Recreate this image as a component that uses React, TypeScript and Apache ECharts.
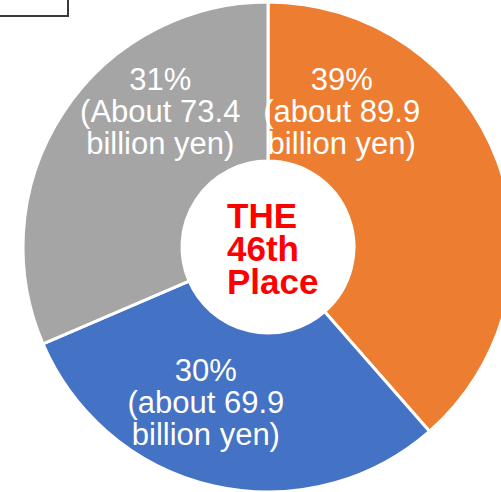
import React, { useEffect, useRef } from "react";
import * as echarts from "echarts";

const categories = ["39%\n(about 89.9\nbillion yen)", "30%\n(about 69.9\nbillion yen)", "31%\n(About 73.4\nbillion yen)"];
const values = [89.9, 69.9, 73.4];
const colors = ["#ED7D31", "#4472C4", "#A5A5A5"];
const labelOffsets: [number, number][] = [[-84, -76], [-25, -9], [33, -43]];
const centerText = "THE\n46th\nPlace";

export default function App() {
  const ref = useRef<HTMLDivElement>(null);
  useEffect(() => {
    if (!ref.current) return;
    const chart = echarts.init(ref.current, null, { renderer: "svg" });
    chart.setOption({
      animation: false,
      backgroundColor: "#ffffff",
      series: [
        {
          type: "pie",
          center: [268, 247],
          radius: [86, 245],
          startAngle: 90,
          clockwise: true,
          avoidLabelOverlap: false,
          silent: true,
          itemStyle: { borderColor: "#ffffff", borderWidth: 3 },
          label: {
            show: true,
            position: "inside",
            color: "#ffffff",
            fontFamily: "Liberation Sans, Arial, sans-serif",
            fontSize: 31,
            lineHeight: 32,
            align: "center",
            formatter: (p: any) => p.name,
          },
          labelLine: { show: false },
          data: values.map((v, i) => ({
            value: v,
            name: categories[i],
            itemStyle: { color: colors[i] },
            label: { offset: labelOffsets[i] },
          })),
        },
      ],
      graphic: [
        {
          type: "rect",
          shape: { x: -2, y: -2, width: 70, height: 18 },
          style: { fill: "#ffffff", stroke: "#3a3a3a", lineWidth: 2 },
        },
        {
          type: "text",
          x: 227,
          y: 248,
          style: {
            text: centerText,
            fill: "#FF0000",
            font: "bold 35px 'Liberation Sans', Arial, sans-serif",
            lineHeight: 33,
            textAlign: "left",
            textVerticalAlign: "middle",
          },
        },
      ],
    });
    return () => chart.dispose();
  }, []);
  return (
    <div
      ref={ref}
      style={{ position: "absolute", left: 0, top: 0, width: 501, height: 492 }}
    />
  );
}
